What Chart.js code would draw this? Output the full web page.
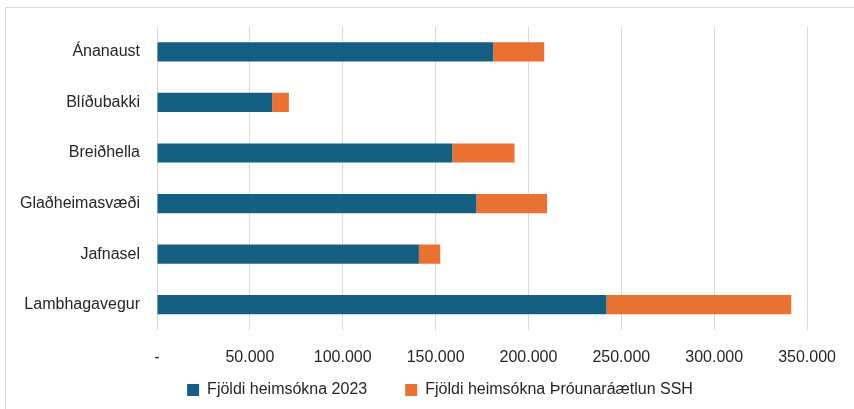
<!DOCTYPE html>
<html>
<head>
<meta charset="utf-8">
<script src="https://cdn.jsdelivr.net/npm/chart.js@4"></script>
<style>
html,body{margin:0;padding:0;background:#fff;}
#wrap{width:854px;height:409px;position:relative;}
</style>
</head>
<body>
<div id="wrap"><canvas id="c" width="854" height="409"></canvas></div>
<script>
const categories = ["Ánanaust", "Blíðubakki", "Breiðhella", "Glaðheimasvæði", "Jafnasel", "Lambhagavegur"];
const visits2023 = [181000, 62000, 159000, 172000, 141000, 242000];
const planSSH = [27500, 9000, 33500, 38000, 11500, 99500];
const seriesNames = ["Fjöldi heimsókna 2023", "Fjöldi heimsókna Þróunaráætlun SSH"];
const xTicks = [0, 50000, 100000, 150000, 200000, 250000, 300000, 350000];

const FONT = "'Liberation Sans', Arial, sans-serif";

const framePlugin = {
  id: 'frame',
  beforeLayout(chart) {
    const lg = chart.legend;
    if (lg && !lg._patched) {
      const orig = lg.fit;
      lg.fit = function () { orig.call(this); this.height = 37; };
      lg._patched = true;
    }
  },
  afterLayout(chart) {
    const lg = chart.legend;
    if (lg) {
      lg.left = 71;
      lg.right = 809;
      lg.top = 344;
      lg.bottom = 409;
    }
  },
  beforeDraw(chart) {
    const ctx = chart.ctx;
    ctx.save();
    ctx.strokeStyle = '#d9d9d9';
    ctx.lineWidth = 1;
    ctx.beginPath();
    ctx.moveTo(5.5, 409);
    ctx.lineTo(5.5, 7.5);
    ctx.lineTo(854, 7.5);
    ctx.stroke();
    ctx.restore();
  }
};

function fmt(v) {
  if (v === 0) return '-';
  return String(v).replace(/\B(?=(\d{3})+(?!\d))/g, '.');
}

new Chart(document.getElementById('c'), {
  type: 'bar',
  data: {
    labels: categories,
    datasets: [
      { label: seriesNames[0], data: visits2023, backgroundColor: '#156082', borderWidth: 0 },
      { label: seriesNames[1], data: planSSH, backgroundColor: '#E97132', borderWidth: 0 }
    ]
  },
  options: {
    indexAxis: 'y',
    responsive: false,
    animation: false,
    devicePixelRatio: 1,
    datasets: { bar: { categoryPercentage: 1, barPercentage: 0.38 } },
    layout: { padding: { left: 0, right: 45, top: 24, bottom: 0 } },
    plugins: {
      tooltip: { enabled: false },
      legend: {
        position: 'bottom',
        labels: {
          boxWidth: 12, boxHeight: 12, padding: 38,
          color: '#262626',
          font: { family: FONT, size: 16 }
        }
      }
    },
    scales: {
      x: {
        stacked: true,
        min: 0, max: 350000,
        afterBuildTicks(axis) { axis.ticks = xTicks.map(v => ({ value: v })); },
        afterFit(axis) { axis.height = 42; },
        grid: { color: '#d9d9d9', drawTicks: false, lineWidth: 1 },
        border: { display: false },
        ticks: {
          padding: 18,
          color: '#262626',
          font: { family: FONT, size: 16 },
          callback: (v) => fmt(v),
          maxRotation: 0
        }
      },
      y: {
        stacked: true,
        afterFit(axis) { axis.width = 157; },
        grid: { display: false, drawTicks: false },
        border: { display: false },
        ticks: {
          padding: 17,
          color: '#262626',
          font: { family: FONT, size: 16 }
        }
      }
    }
  },
  plugins: [framePlugin]
});
</script>
</body>
</html>
